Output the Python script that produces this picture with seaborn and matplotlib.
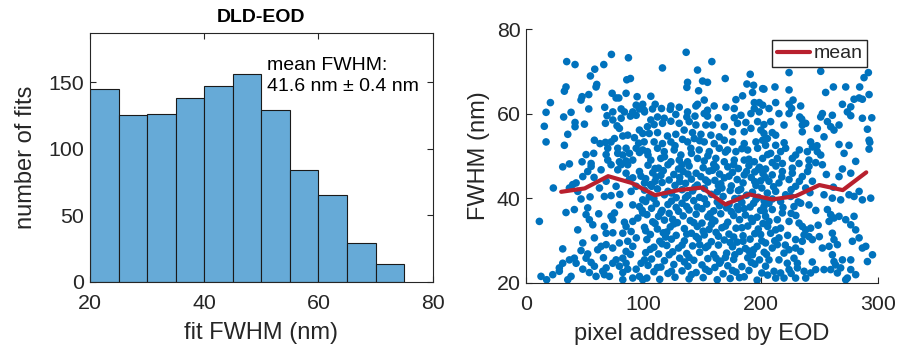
import numpy as np
import pandas as pd
import matplotlib
matplotlib.use("Agg")
import matplotlib.pyplot as plt
import seaborn as sns

# histogram of fitted FWHM values (5 nm bins)
bin_edges = [20, 25, 30, 35, 40, 45, 50, 55, 60, 65, 70, 75]
bin_counts = [145, 125, 126, 138, 147, 156, 129, 84, 65, 29, 13]

# binned mean of FWHM along the EOD pixel axis
mean_pixel = [30, 50, 70, 90, 110, 130, 150, 170, 190, 210, 230, 250, 270, 290]
mean_fwhm = [41.5, 42.3, 45.2, 43.6, 40.7, 41.9, 42.5, 38.5, 40.9, 39.7, 40.5, 43.1, 41.9, 46.1]

# individual fits (pixel, FWHM nm)
fits_upper_left = [
    (34.7, 72.3), (41.8, 71.6), (72.8, 74.0), (87.3, 73.2), (58.6, 70.5), (66.3, 71.6), (54.9, 68.9),
    (85.9, 68.0), (89.0, 68.3), (60.3, 66.9), (59.7, 66.3), (34.1, 66.3), (32.7, 65.3), (47.8, 64.0),
    (46.9, 63.2), (53.5, 64.5), (73.4, 64.8), (76.8, 63.7), (85.3, 64.8), (79.1, 63.7), (94.7, 64.0),
    (20.8, 62.6), (17.1, 60.3), (15.6, 57.0), (17.1, 53.3), (32.7, 52.5), (35.6, 55.1), (41.8, 57.9),
    (41.8, 56.9), (49.8, 57.5), (32.1, 59.2), (38.4, 60.3), (53.5, 61.1), (67.1, 61.5), (69.1, 59.5),
    (74.0, 60.4), (81.1, 61.1), (83.9, 60.4), (67.7, 57.7), (74.0, 58.5), (77.6, 57.1), (81.1, 58.9),
    (79.6, 56.5), (89.0, 59.4), (91.0, 60.4), (93.9, 62.0), (96.7, 61.1), (99.5, 62.2), (93.9, 59.6),
    (101.0, 60.4), (96.7, 56.1), (75.4, 54.1), (82.5, 54.7), (86.7, 54.9), (92.4, 54.3), (99.5, 55.3),
    (58.3, 53.7), (63.1, 52.9), (67.7, 53.2), (72.5, 53.3), (69.7, 51.8), (78.2, 51.8), (85.3, 51.8),
    (93.9, 51.8), (99.5, 51.4), (51.2, 50.3), (57.7, 50.6), (68.3, 50.3), (78.2, 50.6), (82.5, 50.2),
    (88.2, 50.6), (96.7, 50.8), (47.8, 48.6), (55.5, 48.2), (69.7, 49.0), (79.6, 48.6), (85.3, 48.8),
    (91.0, 49.0),
]

fits_upper_mid = [
    (136.5, 74.5), (158.4, 72.3), (116.3, 70.8), (146.2, 70.3), (169.8, 68.3), (191.1, 69.3), (137.7, 67.4),
    (150.5, 67.7), (154.7, 67.4), (137.1, 66.2), (147.1, 65.4), (188.3, 67.0), (194.0, 66.7), (201.7, 65.9),
    (106.4, 64.1), (151.9, 63.2), (144.8, 61.8), (178.9, 63.3), (184.6, 64.2), (193.1, 65.0), (194.6, 62.6),
    (198.8, 62.6), (201.7, 62.0), (100.7, 60.8), (107.8, 61.1), (110.1, 62.2), (115.5, 61.2), (122.9, 61.0),
    (123.5, 61.8), (130.6, 61.5), (137.7, 60.4), (146.2, 62.2), (154.7, 60.8), (160.4, 61.8), (170.4, 61.5),
    (177.5, 61.2), (194.6, 61.2), (106.4, 58.5), (112.1, 59.2), (117.8, 58.9), (127.7, 59.8), (137.1, 59.2),
    (144.0, 59.4), (151.9, 60.0), (154.7, 59.4), (163.8, 59.0), (177.5, 59.0), (183.2, 59.6), (191.7, 60.0),
    (198.8, 60.4), (103.5, 56.9), (109.2, 57.4), (116.3, 57.7), (123.5, 58.2), (130.6, 57.7), (139.1, 58.1),
    (144.8, 57.3), (153.3, 57.3), (159.0, 57.3), (169.0, 56.9), (180.3, 57.7), (187.4, 57.9), (197.4, 58.1),
    (105.0, 55.3), (112.1, 55.5), (120.6, 54.7), (127.7, 55.1), (134.8, 56.1), (141.9, 55.5), (149.1, 55.1),
    (157.6, 54.9), (164.7, 54.5), (176.1, 55.7), (186.0, 55.7), (191.7, 56.5), (200.2, 56.1), (100.7, 53.3),
    (109.2, 53.3), (116.3, 52.9), (123.5, 53.3), (133.4, 53.9), (137.7, 53.3), (143.4, 54.1), (151.9, 53.3),
    (160.4, 52.9), (169.0, 53.7), (176.1, 53.3), (186.0, 52.9), (196.0, 53.3), (201.7, 53.7), (103.5, 51.0),
    (112.1, 51.8), (117.8, 51.0), (126.3, 51.4), (132.0, 50.2), (140.5, 51.8), (147.6, 51.4), (156.2, 51.0),
    (164.7, 51.8), (171.8, 51.4), (178.9, 51.0), (188.9, 51.4), (197.4, 51.8), (106.4, 49.0), (114.9, 49.4),
    (123.5, 48.6), (130.6, 49.0), (137.7, 48.6), (146.2, 49.4), (151.9, 48.8), (161.8, 49.4), (169.0, 48.6),
    (177.5, 49.0), (186.0, 49.0), (194.6, 48.6), (201.7, 49.4),
]

fits_upper_right = [
    (224.2, 69.7), (251.2, 70.0), (291.8, 69.7), (288.1, 68.5), (202.8, 65.8), (212.2, 66.3), (224.2, 65.6),
    (255.4, 65.0), (262.0, 66.3), (272.5, 66.3), (284.4, 66.3), (292.4, 64.5), (207.1, 61.2), (212.8, 62.6),
    (224.2, 62.2), (227.6, 63.2), (226.4, 61.2), (234.1, 61.8), (269.7, 62.2), (279.6, 63.4), (283.9, 63.7),
    (286.7, 63.4), (276.8, 61.6), (273.9, 60.4), (215.6, 60.0), (224.2, 60.0), (233.3, 59.2), (235.0, 58.7),
    (252.6, 60.0), (251.2, 59.2), (261.1, 59.6), (276.8, 59.5), (286.7, 58.9), (294.7, 59.0), (202.8, 57.4),
    (208.5, 58.1), (219.9, 57.3), (235.5, 57.3), (238.4, 57.7), (248.3, 56.5), (256.9, 58.1), (259.7, 56.9),
    (266.8, 57.3), (262.5, 56.1), (291.0, 56.3), (202.8, 55.3), (209.9, 55.5), (205.7, 54.1), (212.8, 54.9),
    (235.5, 55.7), (242.6, 53.3), (244.1, 52.1), (254.0, 54.5), (266.8, 52.7), (271.1, 50.6), (275.3, 52.5),
    (292.4, 53.7), (293.0, 53.2), (292.4, 51.6), (204.2, 52.5), (212.8, 52.5), (217.0, 51.0), (221.3, 51.8),
    (208.5, 50.6), (214.2, 49.4), (227.0, 49.4), (229.8, 50.2), (239.8, 51.0), (248.3, 51.0), (251.2, 50.2),
    (241.2, 49.0), (209.9, 48.4), (218.5, 48.2), (232.7, 48.2), (246.9, 48.4),
]

fits_lower_left = [
    (23.3, 42.4), (11.4, 34.5), (34.1, 36.6), (44.1, 32.5), (31.3, 28.0), (12.8, 21.5), (17.6, 20.7),
    (22.8, 21.9), (28.4, 22.7), (28.4, 23.5), (31.3, 24.6), (37.0, 25.4), (41.2, 25.8), (42.7, 24.6),
    (38.4, 21.5), (35.6, 20.7), (48.4, 29.4), (46.9, 27.6), (52.6, 26.8), (51.2, 25.8), (55.5, 24.8),
    (58.3, 23.9), (48.4, 23.2), (54.0, 22.4), (59.7, 21.5), (65.4, 22.7), (68.3, 23.5), (66.8, 21.9),
    (71.1, 21.5), (73.9, 24.6), (76.8, 25.4), (82.5, 25.8), (85.3, 24.6), (79.6, 23.9), (82.5, 22.4),
    (86.7, 23.2), (93.9, 23.2), (98.1, 24.6), (101.0, 25.4), (96.7, 21.5), (82.5, 20.7), (91.0, 21.1),
    (99.5, 20.7), (66.8, 33.3), (68.3, 31.7), (68.3, 29.0), (64.0, 28.6), (61.1, 27.8), (58.3, 30.6),
    (73.9, 28.2), (79.6, 29.4), (85.3, 27.4), (91.0, 28.6), (86.7, 29.8), (89.6, 32.1), (82.5, 31.7),
    (85.3, 33.3), (83.9, 34.3), (91.0, 34.5), (95.3, 35.3), (99.5, 36.5), (96.7, 38.0), (91.0, 38.4),
    (99.5, 39.6), (75.4, 36.5), (72.5, 35.7), (73.9, 34.9), (79.6, 38.4), (72.5, 40.6), (66.8, 40.4),
    (54.6, 40.3), (46.9, 39.8), (52.6, 37.7), (51.2, 36.1), (54.0, 34.9), (56.9, 33.7), (41.2, 37.3),
    (48.4, 45.1), (42.7, 43.6), (44.1, 41.6), (52.6, 46.3), (55.5, 47.5), (62.6, 42.4), (64.0, 46.7),
    (72.5, 47.9), (78.2, 46.7), (85.3, 45.9), (91.0, 44.8), (96.7, 46.3), (101.0, 43.6), (89.6, 41.6),
    (93.9, 42.8), (81.1, 47.9), (68.3, 44.0), (76.8, 42.8), (86.7, 47.9), (37.0, 42.4), (39.8, 43.2),
    (31.3, 47.4), (37.0, 48.1),
]

fits_lower_mid = [
    (104, 47.8), (113, 47.1), (121, 47.9), (130, 46.9), (139, 47.6), (151, 47.2), (160, 48.0), (172, 47.4),
    (181, 47.0), (190, 47.7), (199, 47.3), (108, 46.0), (117, 46.5), (126, 45.6), (134, 46.3), (145, 45.9),
    (156, 46.4), (165, 45.7), (176, 46.1), (186, 45.5), (195, 46.2), (202, 45.8), (102, 44.6), (111, 45.0),
    (122, 44.3), (131, 44.9), (141, 44.5), (149, 45.1), (161, 44.2), (169, 44.8), (180, 44.4), (192, 44.9),
    (200, 44.1), (106, 43.2), (116, 43.7), (127, 43.0), (136, 43.5), (146, 43.1), (155, 43.8), (166, 43.4),
    (175, 42.9), (185, 43.6), (196, 43.0), (101, 41.9), (112, 42.2), (121, 41.6), (133, 42.0), (142, 41.7),
    (152, 42.3), (163, 41.5), (174, 41.8), (183, 42.1), (193, 41.4), (201, 42.4), (105, 40.3), (118, 40.8),
    (128, 40.1), (138, 40.6), (148, 40.2), (158, 40.9), (168, 40.4), (178, 39.9), (188, 40.7), (198, 40.2),
    (102, 39.2), (111, 38.7), (124, 39.3), (133, 38.8), (143, 39.4), (154, 38.6), (163, 39.1), (173, 38.5),
    (184, 39.0), (194, 38.8), (203, 39.3), (107, 37.6), (116, 37.1), (128, 37.8), (139, 37.2), (150, 37.5),
    (160, 37.0), (171, 37.7), (181, 37.3), (191, 37.9), (200, 37.1), (103, 36.1), (113, 35.7), (122, 36.4),
    (134, 35.8), (145, 36.2), (155, 35.6), (166, 36.3), (177, 35.9), (187, 36.0), (197, 35.5), (108, 34.4),
    (118, 34.8), (129, 34.2), (140, 34.7), (150, 34.1), (161, 34.6), (172, 34.3), (182, 34.9), (193, 34.5),
    (202, 34.0), (101, 33.1), (112, 32.7), (123, 33.2), (135, 32.8), (146, 33.3), (156, 32.6), (167, 33.0),
    (179, 32.9), (189, 33.4), (198, 32.7), (106, 31.4), (117, 31.8), (128, 31.2), (141, 31.7), (152, 31.3),
    (162, 31.9), (173, 31.5), (185, 31.1), (195, 31.6), (103, 30.2), (114, 29.8), (124, 30.3), (135, 29.9),
    (147, 30.4), (158, 29.7), (169, 30.1), (180, 29.6), (191, 30.3), (201, 29.9), (109, 28.4), (120, 28.8),
    (130, 28.2), (142, 28.7), (153, 28.3), (164, 28.9), (176, 28.5), (187, 28.1), (197, 28.6), (102, 27.1),
    (113, 26.8), (125, 27.3), (137, 26.9), (148, 27.2), (160, 26.7), (171, 27.0), (182, 27.4), (193, 26.6),
    (203, 27.2), (107, 25.6), (118, 25.2), (131, 25.8), (143, 25.3), (155, 25.7), (166, 25.1), (177, 25.5),
    (189, 25.9), (199, 25.4), (104, 24.1), (115, 23.7), (126, 24.3), (138, 23.9), (150, 24.2), (161, 23.6),
    (172, 24.0), (184, 23.8), (195, 24.4), (109, 22.6), (121, 22.2), (133, 22.8), (145, 22.4), (156, 22.7),
    (168, 22.1), (179, 22.5), (190, 22.9), (201, 22.3), (103, 21.1), (114, 20.8), (127, 21.3), (139, 20.9),
    (151, 21.2), (163, 20.7), (174, 21.0), (186, 21.4), (197, 20.6), (110, 44.0), (137, 38.0), (158, 33.8),
    (170, 26.0), (125, 35.0), (148, 29.0), (180, 38.0), (190, 27.5), (119, 30.8), (164, 43.0),
]

fits_lower_right = [
    (269.7, 46.9), (276.8, 45.9), (266.8, 45.1), (252.6, 47.9), (244.1, 44.0), (254.0, 40.8), (261.1, 40.0),
    (268.2, 39.6), (275.3, 40.8), (283.9, 41.6), (279.6, 40.4), (293.8, 40.0), (286.7, 39.6), (241.2, 38.4),
    (228.4, 38.0), (234.1, 38.8), (256.9, 37.3), (259.7, 36.1), (262.5, 35.3), (258.3, 34.5), (266.8, 35.7),
    (276.8, 33.7), (281.0, 32.5), (279.6, 35.7), (272.5, 34.9), (232.7, 34.1), (235.5, 33.3), (238.4, 32.5),
    (242.6, 32.9), (237.0, 31.3), (241.2, 30.9), (244.1, 30.2), (235.5, 29.8), (229.8, 30.2), (224.2, 34.5),
    (218.5, 36.5), (214.2, 34.9), (209.9, 37.3), (202.8, 38.0), (204.2, 35.7), (207.1, 34.5), (212.8, 32.5),
    (208.5, 31.7), (215.6, 30.6), (204.2, 29.4), (209.9, 28.2), (214.2, 29.0), (219.9, 27.0), (224.2, 27.8),
    (229.8, 28.2), (234.1, 27.4), (228.4, 25.8), (231.3, 24.6), (222.7, 24.6), (215.6, 25.4), (207.1, 25.4),
    (204.2, 23.9), (211.4, 22.7), (217.0, 22.3), (224.2, 23.1), (231.3, 23.5), (237.0, 22.7), (242.6, 22.3),
    (246.9, 23.1), (254.0, 23.1), (238.4, 21.1), (229.8, 21.1), (219.9, 21.1), (212.8, 21.1), (261.1, 31.7),
    (262.5, 30.2), (265.4, 29.0), (258.3, 28.6), (252.6, 28.2), (261.1, 26.6), (262.5, 25.0), (263.9, 24.2),
    (269.7, 25.4), (276.8, 25.4), (278.2, 29.8), (283.9, 30.6), (286.7, 28.2), (289.6, 28.6), (295.3, 26.6),
    (291.0, 25.0), (276.8, 23.1), (273.9, 21.1), (272.5, 20.7), (281.0, 21.9), (268.2, 23.5), (265.4, 22.3),
    (259.7, 23.1), (204.2, 46.9), (209.9, 45.5), (218.5, 46.3), (227.0, 47.1), (235.5, 45.1), (241.2, 47.5),
    (207.1, 44.0), (215.6, 43.6), (224.2, 44.4), (229.8, 42.8), (238.4, 42.4), (205.7, 41.2), (212.8, 41.6),
    (221.3, 40.8), (217.0, 39.2), (207.1, 38.8), (225.6, 40.4),
]

# extra fits filling the crowded middle of the cloud
fits_dense_core = [
    (96, 53.0), (104, 50.2), (110, 47.0), (118, 49.8), (127, 52.4), (133, 47.9), (141, 50.6), (148, 53.6),
    (155, 50.0), (162, 47.3), (170, 50.9), (177, 47.9), (184, 51.7), (190, 49.2), (198, 46.8), (206, 50.3),
    (213, 47.6), (220, 53.1), (227, 45.9), (233, 51.4), (240, 46.3), (98, 45.2), (107, 42.8), (115, 45.4),
    (124, 41.2), (131, 43.9), (138, 45.7), (144, 42.6), (153, 44.3), (159, 46.6), (167, 42.4), (173, 45.2),
    (181, 41.8), (188, 46.3), (195, 43.9), (204, 44.9), (211, 42.7), (218, 45.0), (226, 42.0), (233, 44.0),
    (242, 41.3), (99, 37.1), (109, 39.9), (115, 36.6), (121, 38.5), (130, 36.9), (136, 40.1), (146, 37.9),
    (152, 39.8), (157, 36.3), (165, 38.2), (175, 36.8), (182, 39.9), (186, 37.5), (196, 39.7), (203, 36.9),
    (210, 39.8), (219, 37.8), (226, 36.4), (232, 39.1), (247, 37.1), (102, 32.3), (110, 34.0), (120, 32.0),
    (126, 33.9), (137, 31.5), (143, 34.2), (151, 32.2), (159, 34.9), (164, 31.0), (170, 33.4), (177, 30.8),
    (184, 33.0), (192, 35.2), (200, 31.4), (206, 33.3), (217, 32.9), (223, 31.2), (230, 35.9), (249, 33.6),
    (106, 27.9), (116, 29.2), (122, 26.6), (133, 28.9), (139, 26.0), (145, 30.9), (155, 28.7), (162, 25.8),
    (174, 29.5), (178, 26.6), (185, 29.8), (194, 27.8), (205, 26.7), (212, 29.9), (221, 28.9), (250, 30.9),
    (112, 23.6), (124, 22.7), (135, 24.9), (141, 21.9), (153, 23.2), (165, 24.6), (176, 22.9), (182, 21.2),
    (192, 24.8), (206, 21.8), (226, 22.2), (244, 24.9), (88, 44.4), (80, 40.9), (94, 30.6), (62, 36.3),
    (58, 44.9), (74, 31.8), (66, 25.9), (89, 26.7), (256, 45.6), (262, 42.6), (248, 52.4), (281, 48.7),
]

FIT_BLUE = "#0072BD"
HIST_FACE = "#66AAD7"
MEAN_RED = "#B8202E"
AX_GREY = "#262626"

sns.set_style("ticks", {"xtick.direction": "in", "ytick.direction": "in"})
plt.rcParams["font.family"] = ["Liberation Sans", "DejaVu Sans"]
plt.rcParams["axes.edgecolor"] = AX_GREY
plt.rcParams["axes.linewidth"] = 0.8
plt.rcParams["xtick.color"] = AX_GREY
plt.rcParams["ytick.color"] = AX_GREY

fits = pd.DataFrame(
    fits_upper_left + fits_upper_mid + fits_upper_right
    + fits_lower_left + fits_lower_mid + fits_lower_right + fits_dense_core,
    columns=["pixel", "fwhm"],
)
bin_centers = [(a + b) / 2 for a, b in zip(bin_edges[:-1], bin_edges[1:])]

fig = plt.figure(figsize=(8.97, 3.47), dpi=100)
ax1 = fig.add_axes([0.1003, 0.188, 0.382, 0.7176])
ax2 = fig.add_axes([0.5864, 0.1853, 0.3924, 0.731])

# ── left: histogram ──
sns.histplot(x=bin_centers, weights=bin_counts, bins=bin_edges, ax=ax1,
             color=HIST_FACE, alpha=1, edgecolor="#1a1a1a", linewidth=0.8)
ax1.set_xlim(20, 80)
ax1.set_ylim(0, 187)
ax1.set_xticks([20, 40, 60, 80])
ax1.set_yticks([0, 50, 100, 150])
ax1.tick_params(top=True, right=True, length=4, width=0.8, labelsize=15.4)
ax1.tick_params(axis="x", pad=9)
ax1.tick_params(axis="y", pad=4)
for s in ax1.spines.values():
    s.set_visible(True)
ax1.set_xlabel("fit FWHM (nm)", fontsize=17, color=AX_GREY, labelpad=6)
ax1.set_ylabel("number of fits", fontsize=17, color=AX_GREY, labelpad=8)
ax1.set_title("DLD-EOD", fontsize=14, fontweight="bold", color="black", pad=8)
ax1.text(51.0, 154.5, "mean FWHM:\n41.6 nm \u00b1 0.4 nm", fontsize=14,
         ha="left", va="center", linespacing=1.3, color="black")

# ── right: FWHM vs pixel ──
sns.scatterplot(data=fits, x="pixel", y="fwhm", ax=ax2, s=30, color=FIT_BLUE,
                edgecolor="none", linewidth=0)
sns.lineplot(x=mean_pixel, y=mean_fwhm, ax=ax2, color=MEAN_RED, linewidth=3,
             sort=False, label="mean")
ax2.set_xlim(0, 300)
ax2.set_ylim(20, 80)
ax2.set_xticks([0, 100, 200, 300])
ax2.set_yticks([20, 40, 60, 80])
ax2.tick_params(length=4, width=0.8, labelsize=15.4)
ax2.tick_params(axis="x", pad=9)
ax2.tick_params(axis="y", pad=4)
sns.despine(ax=ax2)
ax2.set_xlabel("pixel addressed by EOD", fontsize=17, color=AX_GREY, labelpad=6)
ax2.set_ylabel("FWHM (nm)", fontsize=17, color=AX_GREY, labelpad=5)
leg = ax2.legend(loc="upper right", bbox_to_anchor=(0.97, 0.957), borderaxespad=0,
                 fontsize=14, frameon=True, fancybox=False, framealpha=1,
                 edgecolor=AX_GREY, handlelength=1.7, handletextpad=0.2,
                 borderpad=0.25)
leg.get_frame().set_linewidth(1.0)

fig.savefig("out.png", dpi=100)
